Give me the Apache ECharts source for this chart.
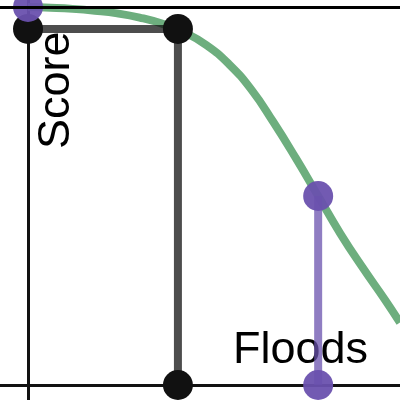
<!DOCTYPE html>
<html>
<head>
<meta charset="utf-8">
<script src="https://cdn.jsdelivr.net/npm/echarts@6/dist/echarts.min.js"></script>
<style>
  html, body { margin: 0; padding: 0; background: #fff; }
  #main { width: 400px; height: 400px; }
</style>
</head>
<body>
<div id="main"></div>
<script>
// curve (x: 0..100, y: 0..100)
var curveX = [0, 6, 12, 18, 24, 30, 36, 42, 48, 54, 60, 66, 72, 78, 84, 90, 96, 100];
var curveY = [100, 99.8, 99.5, 99.0, 98.3, 97.2, 95.6, 93.3, 89.9, 84.9, 78.2, 69.5, 60, 50, 40, 31, 22.5, 16.5];

// black path (score threshold) and purple drop (floods)
var pathX = [0, 40.3, 40.3];
var pathY = [94.2, 94.2, 0];
var dropX = [0, 78, 78];
var dropY = [100, 50, 0];

var xLabel = "Floods";
var yLabel = "Score";

function pairs(xs, ys) {
  return xs.map(function (x, i) { return [x, ys[i]]; });
}

var chart = echarts.init(document.getElementById("main"));
var option = {
  animation: false,
  grid: { left: 0, right: 0, top: 0, bottom: 0 },
  xAxis: {
    type: "value",
    min: -7.53,
    max: 100,
    axisLine: { onZero: true, lineStyle: { color: "#111", width: 3 } },
    axisTick: { show: false },
    axisLabel: { show: false },
    splitLine: { show: false }
  },
  yAxis: {
    type: "value",
    min: -3.97,
    max: 101.85,
    axisLine: { show: true, onZero: true, lineStyle: { color: "#111", width: 3 } },
    axisTick: { show: false },
    axisLabel: { show: false },
    splitLine: { show: false }
  },
  graphic: [
    {
      type: "text",
      left: 233,
      top: 328,
      z: 0,
      style: { text: xLabel, fontSize: 45, fontFamily: "Liberation Sans", fill: "#000" }
    },
    {
      type: "text",
      x: 34,
      y: 149,
      z: 0,
      rotation: Math.PI / 2,
      style: { text: yLabel, fontSize: 45, fontFamily: "Liberation Sans", fill: "#000" }
    }
  ],
  series: [
    {
      type: "line",
      data: pairs(curveX, curveY),
      smooth: true,
      showSymbol: false,
      lineStyle: { color: "#6dae7e", width: 8 },
      markLine: {
        silent: true,
        symbol: "none",
        label: { show: false },
        lineStyle: { color: "#000", width: 3, type: "solid" },
        data: [{ yAxis: 100 }]
      },
      z: 2
    },
    {
      type: "line",
      data: pairs(pathX, pathY),
      showSymbol: false,
      lineStyle: { color: "#111", width: 8, opacity: 0.75 },
      z: 3
    },
    {
      type: "line",
      data: pairs(dropX, dropY).slice(1),
      showSymbol: false,
      lineStyle: { color: "#6a51ae", width: 8, opacity: 0.75 },
      z: 3
    },
    {
      type: "scatter",
      data: pairs(pathX, pathY),
      symbolSize: 30,
      itemStyle: { color: "#111", opacity: 1 },
      z: 4
    },
    {
      type: "scatter",
      data: pairs(dropX, dropY),
      symbolSize: 30,
      itemStyle: { color: "#6a51ae", opacity: 0.95 },
      z: 4
    }
  ]
};
chart.setOption(option);
</script>
</body>
</html>
